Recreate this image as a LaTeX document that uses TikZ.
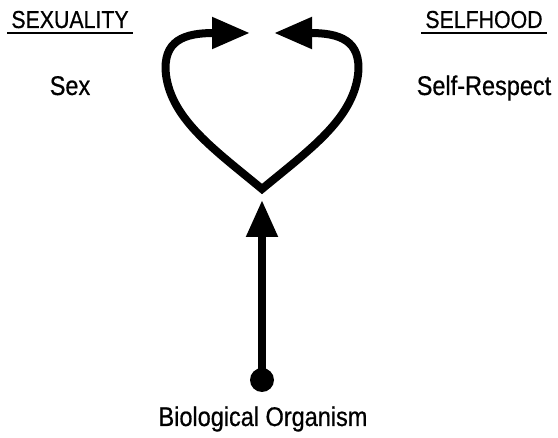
\documentclass[tikz,border=0pt]{standalone}
\usepackage{fontspec}
\setmainfont{Liberation Sans}[FakeStretch=0.87, FakeBold=0.6]
\usetikzlibrary{arrows.meta}
\tikzset{
  lbl/.style={font=\fontsize{27}{30}\selectfont, anchor=base, inner sep=0pt},
  hdr/.style={font=\fontsize{24.5}{28}\selectfont, anchor=base, inner xsep=4pt, inner ysep=5pt, outer sep=0pt},
  ul/.style={line width=2pt},
  heavy/.style={line width=8pt, line join=miter}
}
\begin{document}
\begin{tikzpicture}[x=1pt,y=-1pt]
\useasboundingbox (0,0) rectangle (558,438);
% headings
\node[hdr] (sexh) at (70,28) {SEXUALITY};
\draw[ul] (sexh.south west) -- (sexh.south east);
\node[hdr] (selfh) at (484,28) {SELFHOOD};
\draw[ul] (selfh.south west) -- (selfh.south east);
% labels
\node[lbl] (sex) at (70,95) {Sex};
\node[lbl] (selfr) at (484,95) {Self-Respect};
\node[lbl] (bio) at (263,426) {Biological Organism};
% heart
\coordinate (ltip) at (250,33);
\coordinate (rtip) at (274,33);
\coordinate (vtx) at (262,189);
\draw[heavy, {Triangle[length=38pt, width=30pt]}-{Triangle[length=38pt, width=30pt]}]
  (ltip) .. controls (185,33) and (162,40) .. (166,75)
  .. controls (172,120) and (215,150) .. (vtx)
  .. controls (309,150) and (352,120) .. (358,75)
  .. controls (362,40) and (339,33) .. (rtip);
% vertical arrow
\node[circle, fill=black, inner sep=0pt, minimum size=24pt] (dot) at (262,380) {};
\coordinate (up) at (262,200);
\draw[heavy, -{Triangle[length=37pt, width=30pt]}] (dot.center) -- (up);
\end{tikzpicture}
\end{document}
